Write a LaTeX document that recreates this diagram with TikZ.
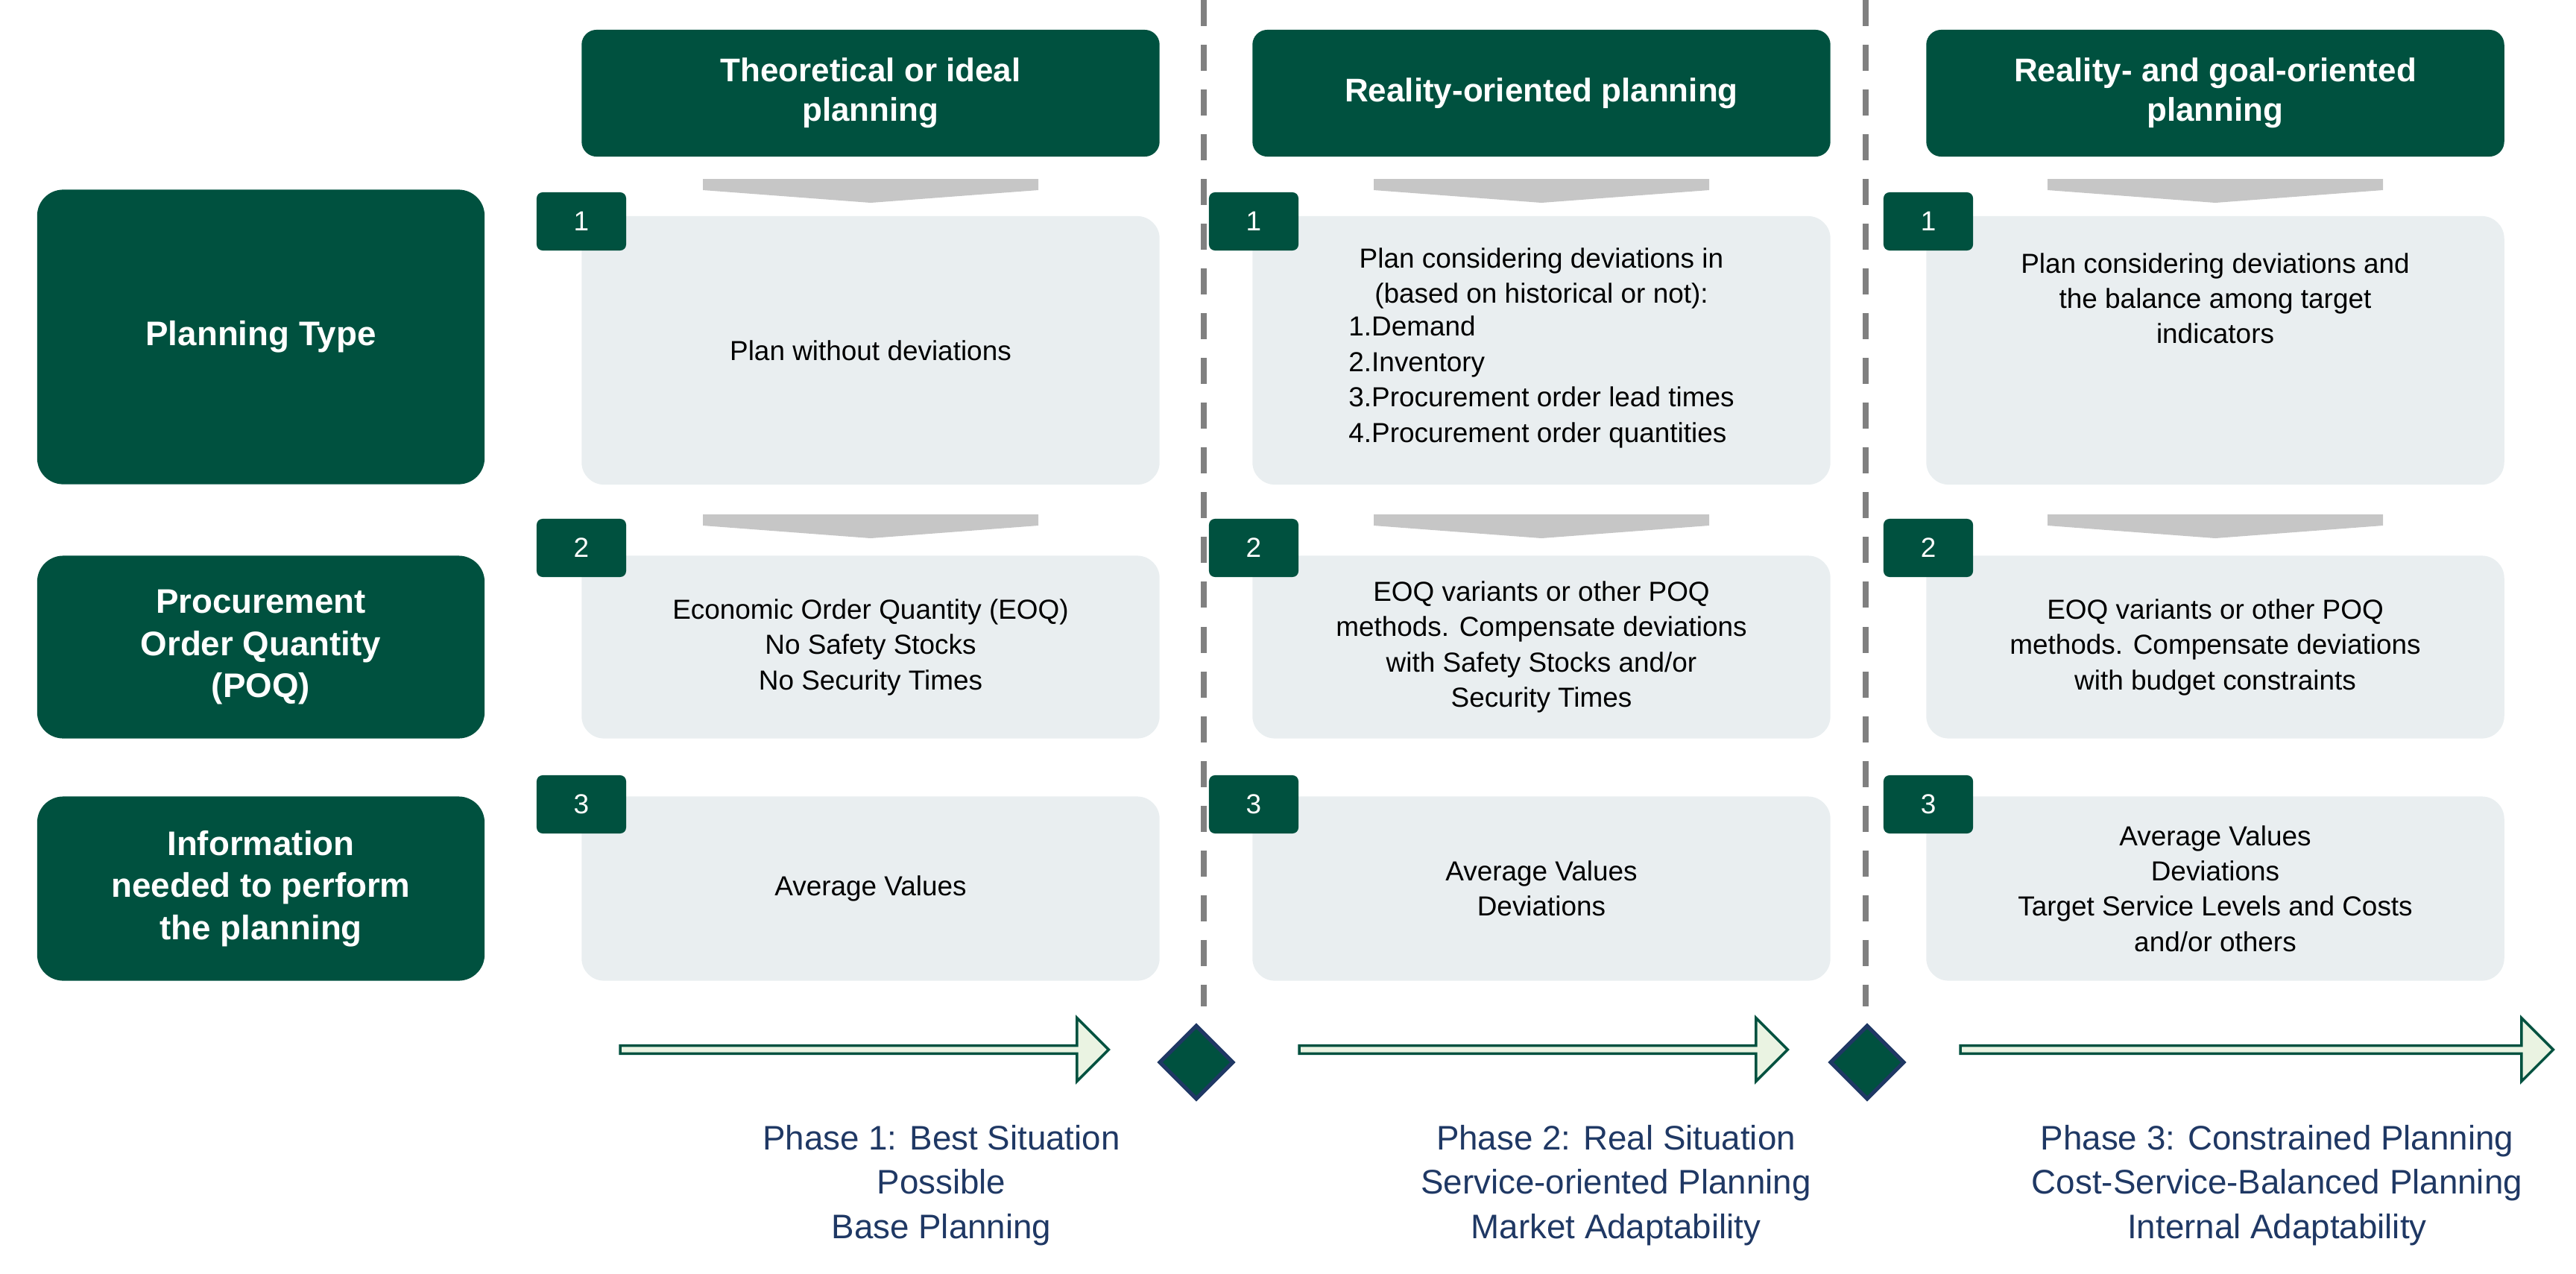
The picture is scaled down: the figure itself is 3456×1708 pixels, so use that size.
\documentclass[tikz,border=0pt]{standalone}
\usepackage{fontspec}
\setmainfont{Liberation Sans}
\usetikzlibrary{shapes.geometric,shapes.arrows}
\definecolor{dg}{HTML}{00513F}
\definecolor{lb}{HTML}{E9EEF0}
\definecolor{lg}{HTML}{EAF3E2}
\definecolor{nv}{HTML}{1F3864}
\tikzset{
 x=0.01cm,y=-0.01cm,
 side/.style={fill=dg,rounded corners=0.35cm,text=white,font=\fontsize{13}{16}\selectfont\bfseries,align=center,inner sep=0},
 head/.style={fill=dg,rounded corners=0.2cm,text=white,font=\fontsize{12.5}{15}\selectfont\bfseries,align=center,inner sep=0},
 box/.style={fill=lb,rounded corners=0.3cm,font=\fontsize{10.5}{13.5}\selectfont,align=center,inner sep=0},
 num/.style={fill=dg,rounded corners=0.08cm,text=white,font=\fontsize{10.5}{12}\selectfont,minimum width=1.2cm,minimum height=0.78cm,inner sep=0},
 tri/.style={fill=gray!45,draw=none},
 parr/.style={single arrow,draw=dg,line width=1pt,fill=lg,single arrow head extend=0.12cm,minimum height=#1,minimum width=0.85cm,inner sep=0,shape border rotate=0},
 dia/.style={diamond,fill=dg,draw=nv,line width=1.5pt,minimum width=1.0cm,minimum height=1.0cm,inner sep=0},
 phase/.style={text=nv,font=\fontsize{13}{17}\selectfont,align=center},
 dl/.style={draw=gray,line width=2.5pt,dash pattern=on 0.35cm off 0.25cm}
}
\begin{document}
\begin{tikzpicture}
\useasboundingbox (0,0) rectangle (3456,1708);
% dashed lines
\coordinate (d1t) at (1615,0); \coordinate (d1b) at (1615,1350);
\coordinate (d2t) at (2503,0); \coordinate (d2b) at (2503,1350);
\draw[dl] (d1t) -- (d1b);
\draw[dl] (d2t) -- (d2b);
% side labels
\node[side,minimum width=6cm,minimum height=3.95cm] (s1) at (350,452) {Planning Type};
\node[side,minimum width=6cm,minimum height=2.45cm] (s2) at (350,868) {Procurement\\Order Quantity\\(POQ)};
\node[side,minimum width=6cm,minimum height=2.47cm] (s3) at (350,1192) {Information\\needed to perform\\the planning};
\foreach \c/\xc/\t in {1/1168/{Theoretical or ideal\\planning},2/2068/{Reality-oriented planning},3/2972/{Reality- and goal-oriented\\planning}}{
 \node[head,minimum width=7.75cm,minimum height=1.7cm] (h\c) at (\xc,125) {\t};
 \fill[tri] (\xc-225,240) -- (\xc+225,240) -- (\xc+225,255) -- (\xc,272) -- (\xc-225,255) -- cycle;
 \fill[tri] (\xc-225,690) -- (\xc+225,690) -- (\xc+225,705) -- (\xc,722) -- (\xc-225,705) -- cycle;
}
% boxes
\node[box,minimum width=7.75cm,minimum height=3.6cm] (b11) at (1168,470) {Plan without deviations};
\node[box,minimum width=7.75cm,minimum height=2.45cm] (b12) at (1168,868) {Economic Order Quantity (EOQ)\\No Safety Stocks\\No Security Times};
\node[box,minimum width=7.75cm,minimum height=2.47cm] (b13) at (1168,1192) {Average Values};
\node[box,minimum width=7.75cm,minimum height=3.6cm] (b21) at (2068,470) {Plan considering deviations in\\(based on historical or not):\\\begin{tabular}{@{}l@{}}1.Demand\\2.Inventory\\3.Procurement order lead times\\4.Procurement order quantities\end{tabular}};
\node[box,minimum width=7.75cm,minimum height=2.45cm] (b22) at (2068,868) {EOQ variants or other POQ\\methods. Compensate deviations\\with Safety Stocks and/or\\Security Times};
\node[box,minimum width=7.75cm,minimum height=2.47cm] (b23) at (2068,1192) {Average Values\\Deviations};
\node[box,minimum width=7.75cm,minimum height=3.6cm] (b31) at (2972,470) {Plan considering deviations and\\the balance among target\\indicators\\[2.5em]};
\node[box,minimum width=7.75cm,minimum height=2.45cm] (b32) at (2972,868) {EOQ variants or other POQ\\methods. Compensate deviations\\with budget constraints};
\node[box,minimum width=7.75cm,minimum height=2.47cm] (b33) at (2972,1192) {Average Values\\Deviations\\Target Service Levels and Costs\\and/or others};
% number badges
\foreach \c/\xn in {1/780,2/1682,3/2587}{
 \node[num] (n\c1) at (\xn,297) {1};
 \node[num] (n\c2) at (\xn,735) {2};
 \node[num] (n\c3) at (\xn,1079) {3};
}
% phase arrows
\node[parr=6.55cm] (a1) at (1157,1408) {};
\node[parr=6.55cm] (a2) at (2068,1408) {};
\node[parr=7.95cm] (a3) at (3025,1408) {};
\node[dia] (x1) at (1605,1425) {};
\node[dia] (x2) at (2505,1425) {};
% phase texts
\node[phase] (p1) at (1263,1590) {Phase 1: Best Situation\\Possible\\Base Planning};
\node[phase] (p2) at (2168,1590) {Phase 2: Real Situation\\Service-oriented Planning\\Market Adaptability};
\node[phase] (p3) at (3055,1590) {Phase 3: Constrained Planning\\Cost-Service-Balanced Planning\\Internal Adaptability};
\end{tikzpicture}
\end{document}
